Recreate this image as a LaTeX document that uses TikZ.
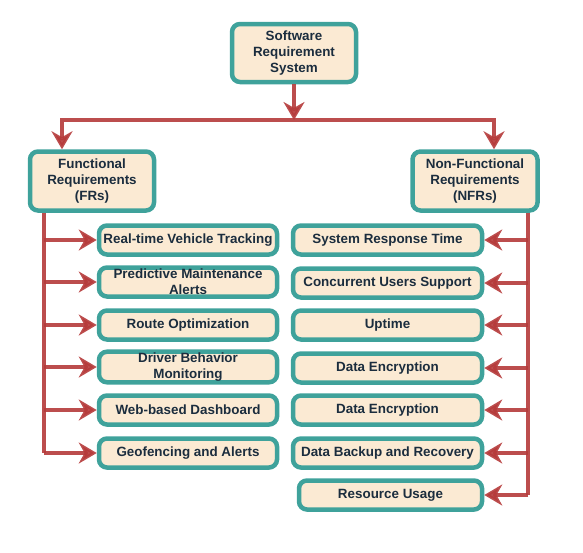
\documentclass[tikz,border=0pt]{standalone}
\usepackage{fontspec}
\setmainfont{Liberation Sans}
\usetikzlibrary{arrows.meta}
\definecolor{boxfill}{HTML}{FBEAD3}
\definecolor{boxline}{HTML}{3FA29B}
\definecolor{linkred}{HTML}{B53A3A}
\definecolor{txt}{HTML}{1B2D3E}
\tikzset{>={Stealth[length=18pt,width=21pt]}}
\tikzset{
  reqbox/.style={draw=boxline, fill=boxfill, line width=4.5pt, rounded corners=8pt,
    align=center, text=txt, font=\fontsize{13.4}{16}\selectfont\bfseries, inner sep=1pt},
  link/.style={draw=linkred, line width=4pt, opacity=0.9}
}
\begin{document}
\begin{tikzpicture}[x=1pt, y=-1pt]
    \useasboundingbox (0,0) rectangle (583,552);
    % top level
    \node (srs) at (294,53) [reqbox, minimum width=124pt, minimum height=58pt] {Software\\Requirement\\System};
    \node (fr) at (92,181) [reqbox, minimum width=124pt, minimum height=59pt] {Functional\\Requirements\\(FRs)};
    \node (nfr) at (475,181) [reqbox, minimum width=125pt, minimum height=59pt] {Non-Functional\\Requirements\\(NFRs)};
    \coordinate (barL) at (62,120);
    \coordinate (barR) at (494,120);
    \coordinate (barM) at (294,120);
    \draw [link, ->] (srs.south) -- (barM);
    \draw [link, ->] (barM) -- (barL) -- (barL |- fr.north);
    \draw [link, ->] (barM) -- (barR) -- (barR |- nfr.north);
    % functional requirements
    \coordinate (trunkL) at (44,0);
    \foreach \name/\y/\label in {f1/240/Real-time Vehicle Tracking,
        f2/282/{Predictive Maintenance\\Alerts}, f3/325/Route Optimization,
        f4/367/{Driver Behavior\\Monitoring}, f5/410/Web-based Dashboard,
        f6/453/Geofencing and Alerts}
      \node (\name) at (188,\y) [reqbox, minimum width=178pt, minimum height=29pt] {\label};
    \draw [link] (trunkL |- fr.south) -- (trunkL |- f6);
    \foreach \name in {f1,f2,f3,f4,f5,f6}
      \draw [link, ->] (trunkL |- \name) -- (\name.west);
    % non-functional requirements
    \coordinate (trunkR) at (528,0);
    \foreach \name/\y/\label in {n1/240/System Response Time,
        n2/283/Concurrent Users Support, n3/325/Uptime,
        n4/368/Data Encryption, n5/410/Data Encryption,
        n6/453/Data Backup and Recovery}
      \node (\name) at (387.5,\y) [reqbox, minimum width=189pt, minimum height=29pt] {\label};
    \node (n7) at (390.5,495) [reqbox, minimum width=183pt, minimum height=29pt] {Resource Usage};
    \draw [link] (trunkR |- nfr.south) -- (trunkR |- n7);
    \foreach \name in {n1,n2,n3,n4,n5,n6,n7}
      \draw [link, ->] (trunkR |- \name) -- (\name.east);
\end{tikzpicture}
\end{document}
